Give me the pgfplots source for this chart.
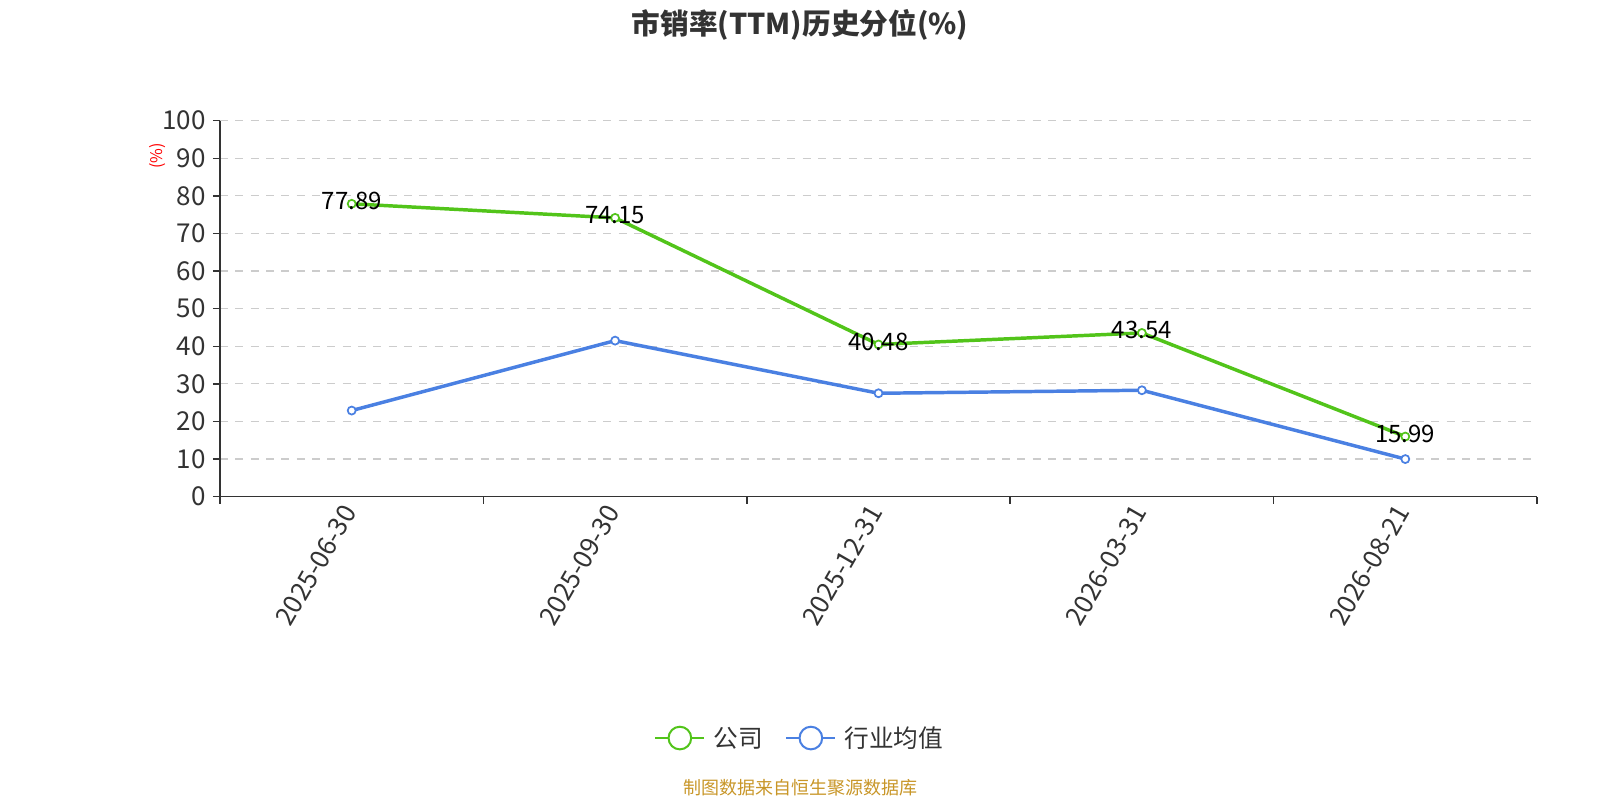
\documentclass[border=0pt]{standalone}
\usepackage{fontspec}
\setmainfont{Noto Sans CJK SC}
\usepackage{pgfplots}
\pgfplotsset{compat=1.18}
\definecolor{cgreen}{RGB}{82,196,26}
\definecolor{cblue}{RGB}{74,128,226}
\definecolor{axisc}{RGB}{51,51,51}
\definecolor{gridc}{RGB}{204,204,204}
\definecolor{foot}{RGB}{200,150,40}
\begin{document}
\begin{tikzpicture}[x=0.75pt,y=0.75pt]
\useasboundingbox (0,0) rectangle (1600,800);
\node[font=\bfseries\fontsize{21.5}{24}\selectfont, text=axisc] at (800,775) {市销率(TTM)历史分位(\%)};
\node[font=\fontsize{13.5}{15}\selectfont, text=foot] at (800,12) {制图数据来自恒生聚源数据库};
\begin{axis}[
  at={(165pt,227.5pt)}, anchor=south west,
  scale only axis, width=987.75pt, height=282pt,
  clip=false,
  xmin=-0.5, xmax=4.5, ymin=0, ymax=100,
  axis x line*=bottom, axis y line*=left,
  axis line style={draw=axisc, line width=1.1pt},
  xtick={0,1,2,3,4},
  xticklabels={2025-06-30,2025-09-30,2025-12-31,2026-03-31,2026-08-21},
  minor xtick={-0.5,0.5,1.5,2.5,3.5,4.5},
  ytick={0,10,...,100},
  tick align=outside,
  major tick length=5.25pt, minor tick length=5.25pt,
  major x tick style={draw=none},
  tick style={draw=axisc, line width=1.1pt},
  ymajorgrids,
  grid style={draw=gridc, line width=0.9pt, dash pattern=on 6pt off 5.5pt},
  /pgf/number format/assume math mode=true,
  ticklabel style={font=\fontsize{19.5}{21}\selectfont, text=axisc},
  yticklabel style={xshift=-2pt},
  xticklabel style={rotate=60, anchor=east},
  ylabel={(\%)},
  ylabel style={at={(axis description cs:-0.0478,0.906)}, anchor=center, font=\fontsize{12}{14}\selectfont, text=red},
  legend columns=2,
  legend style={at={(axis description cs:0.4404,-0.642)}, anchor=center, draw=none, fill=none,
    font=\fontsize{18.5}{20}\selectfont, text=axisc,
    /tikz/every odd column/.append style={column sep=4pt},
    /tikz/every even column/.append style={column sep=15pt}},
  legend cell align=left,
  legend image code/.code={
    \draw[#1, line width=1.5pt] (0pt,0pt) -- (36.75pt,0pt);
    \draw[#1, line width=1.5pt, fill=white] (18.4pt,0pt) circle (8.5pt);
  },
]
\addplot[draw=cgreen, line width=2.6pt, mark=*, mark size=3pt,
  mark options={fill=white, draw=cgreen, line width=1.3pt},
  nodes near coords, point meta=explicit symbolic,
  every node near coord/.append style={font=\fontsize{18}{20}\selectfont, text=black, anchor=center, yshift=2pt}]
  table[meta=lab] {
x y lab
0 77.89 77.89
1 74.15 74.15
2 40.48 40.48
3 43.54 43.54
4 15.99 15.99
};
\addlegendentry{公司}
\addplot[draw=cblue, line width=2.6pt, mark=*, mark size=3pt,
  mark options={fill=white, draw=cblue, line width=1.3pt}]
  coordinates {(0,22.9) (1,41.5) (2,27.5) (3,28.3) (4,10.0)};
\addlegendentry{行业均值}
\end{axis}
\end{tikzpicture}
\end{document}
